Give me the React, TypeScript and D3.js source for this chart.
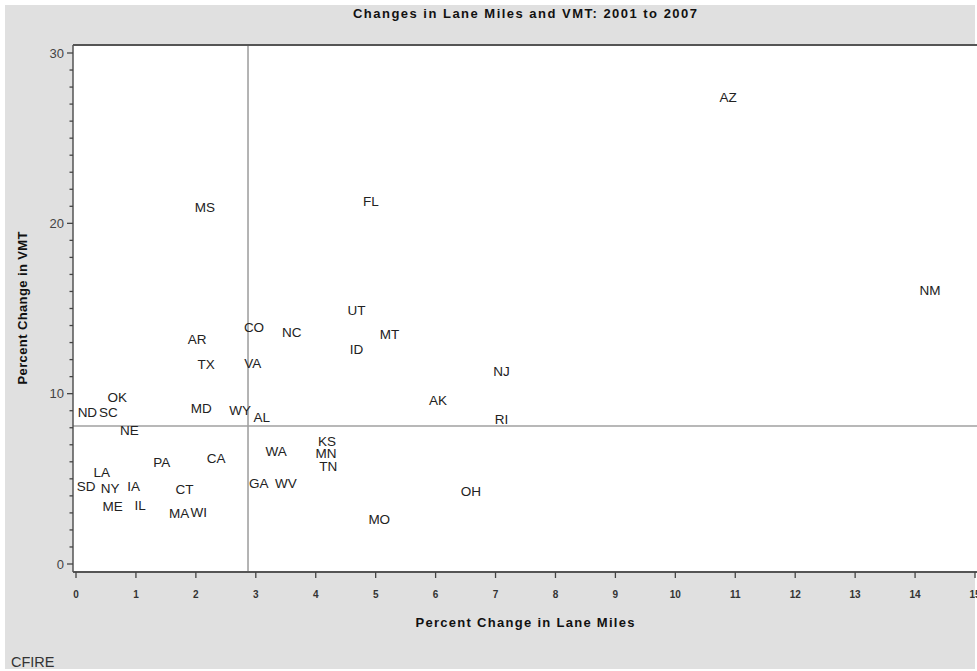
import React from "react";
import * as d3 from "d3";

const states = ["AZ","NM","MS","FL","UT","CO","NC","MT","AR","ID","TX","VA","NJ","OK","AK","MD","WY","ND","SC","AL","RI","NE","KS","WA","MN","CA","PA","TN","LA","SD","NY","IA","GA","WV","OH","CT","ME","IL","MA","WI","MO"];
const laneMiles = [10.88,14.25,2.15,4.92,4.68,2.97,3.6,5.23,2.02,4.68,2.17,2.95,7.1,0.69,6.04,2.09,2.74,0.19,0.54,3.1,7.1,0.89,4.19,3.34,4.17,2.34,1.43,4.21,0.43,0.17,0.57,0.96,3.05,3.5,6.59,1.81,0.61,1.07,1.72,2.05,5.06];
const vmtChange = [27.38,16.1,20.97,21.33,14.9,13.93,13.6,13.5,13.2,12.62,11.74,11.8,11.3,9.77,9.62,9.16,9.05,8.9,8.9,8.64,8.52,7.88,7.22,6.6,6.48,6.2,6.0,5.76,5.38,4.6,4.48,4.6,4.75,4.75,4.25,4.4,3.38,3.45,3.01,3.05,2.66];
const xTicks = [0,1,2,3,4,5,6,7,8,9,10,11,12,13,14,15];
const yMajor = [0,10,20,30];
const yMinor = d3.range(0, 31, 1);
const refX = 2.87;
const refY = 8.1;

const FONT = "'Liberation Sans', Arial, Helvetica, sans-serif";

export default function App() {
  const W = 977, H = 671;
  const left = 73, top = 45, right = 980, bottom = 572;
  const x = d3.scaleLinear().domain([0, 15]).range([76, 975]);
  const y = d3.scaleLinear().domain([0, 30]).range([564, 53]);

  return (
    <svg width={W} height={H} style={{ position: "absolute", left: 0, top: 0, background: "#fff" }} fontFamily={FONT}>
      <rect x={5} y={5} width={970} height={664} fill="#e0e0e0" />
      <text x={525} y={18} textAnchor="middle" fontSize={13} fontWeight="bold" fill="#111" textLength={344} lengthAdjust="spacing">Changes in Lane Miles and VMT: 2001 to 2007</text>
      <rect x={left} y={top} width={right - left} height={bottom - top} fill="#fff" />
      {/* reference lines */}
      <line x1={x(refX)} x2={x(refX)} y1={top} y2={bottom} stroke="#8c8c8c" strokeWidth={1.3} />
      <line x1={left} x2={right} y1={y(refY)} y2={y(refY)} stroke="#a0a0a0" strokeWidth={1.6} />
      {/* frame */}
      <line x1={left} x2={right} y1={top} y2={top} stroke="#555" strokeWidth={2} />
      <line x1={left} x2={right} y1={bottom} y2={bottom} stroke="#555" strokeWidth={2} />
      <line x1={left} x2={left} y1={top} y2={bottom} stroke="#555" strokeWidth={1.5} />
      {/* y ticks */}
      {yMinor.map(v => (
        <line key={"ym" + v} x1={yMajor.includes(v) ? left - 6 : left - 3.5} x2={left} y1={y(v)} y2={y(v)} stroke="#444" strokeWidth={1.3} />
      ))}
      {yMajor.map(v => (
        <text key={"yl" + v} x={left - 9} y={y(v)} dy="0.36em" textAnchor="end" fontSize={13} fill="#444">{v}</text>
      ))}
      {/* x ticks */}
      {xTicks.map(v => (
        <g key={"xt" + v}>
          <line x1={x(v)} x2={x(v)} y1={bottom} y2={bottom + 6} stroke="#444" strokeWidth={1.3} />
          <text x={x(v)} y={598} textAnchor="middle" fontSize={10} fontWeight="bold" fill="#333">{v}</text>
        </g>
      ))}
      <text x={525} y={627} textAnchor="middle" fontSize={13} fontWeight="bold" fill="#111" textLength={219} lengthAdjust="spacing">Percent Change in Lane Miles</text>
      <text transform={`translate(27,308) rotate(-90)`} textAnchor="middle" fontSize={13} fontWeight="bold" fill="#111" textLength={153} lengthAdjust="spacing">Percent Change in VMT</text>
      {/* labels */}
      {states.map((s, i) => (
        <text key={s} x={x(laneMiles[i])} y={y(vmtChange[i])} dy="0.36em" textAnchor="middle" fontSize={13.5} fill="#222">{s}</text>
      ))}
      <text x={11} y={667} fontSize={14.5} fill="#333">CFIRE</text>
    </svg>
  );
}
